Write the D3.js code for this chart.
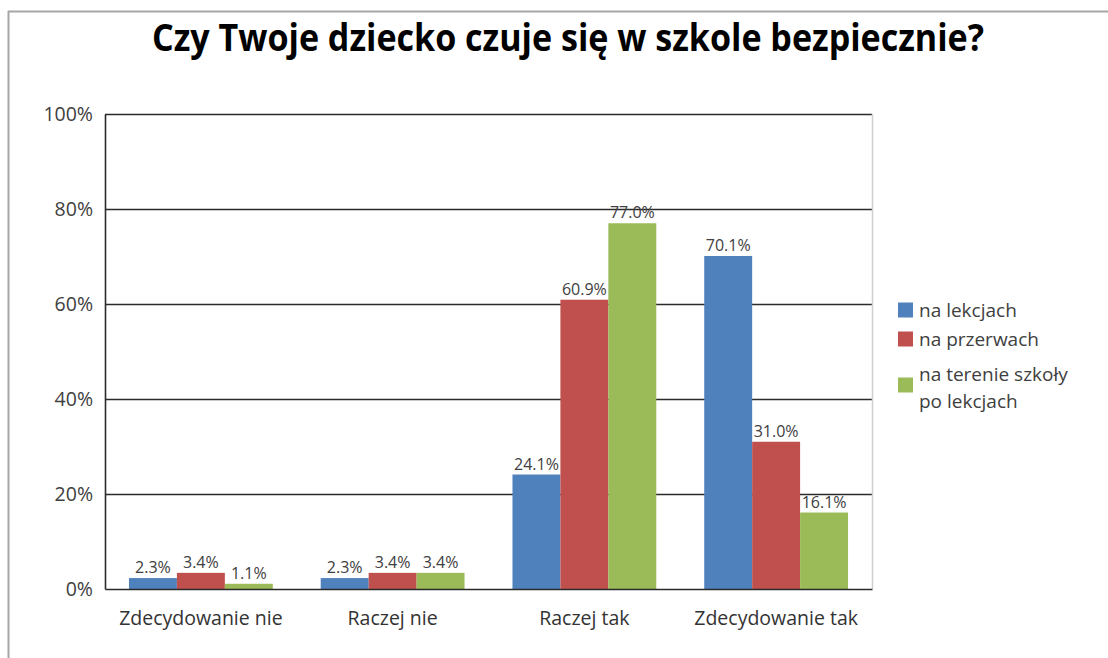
<!DOCTYPE html>
<html>
<head>
<meta charset="utf-8">
<script src="https://cdn.jsdelivr.net/npm/d3@7"></script>
<style>
  body { margin: 0; background: #fff; }
  svg { display: block; }
</style>
</head>
<body>
<svg id="chart" width="1108" height="658"></svg>
<script>
const title = "Czy Twoje dziecko czuje się w szkole bezpiecznie?";
const categories = ["Zdecydowanie nie", "Raczej nie", "Raczej tak", "Zdecydowanie tak"];
const seriesNames = ["na lekcjach", "na przerwach", "na terenie szkoły po lekcjach"];
const legendLines = [["na lekcjach"], ["na przerwach"], ["na terenie szkoły", "po lekcjach"]];
const naLekcjach = [2.3, 2.3, 24.1, 70.1];
const naPrzerwach = [3.4, 3.4, 60.9, 31.0];
const poLekcjach = [1.1, 3.4, 77.0, 16.1];
const yTicks = [0, 20, 40, 60, 80, 100];
const colors = ["#4F81BD", "#C0504D", "#9BBB59"];

const seriesValues = [naLekcjach, naPrzerwach, poLekcjach];

const svg = d3.select("#chart");
const font = "'Open Sans', 'Noto Sans', sans-serif";

// outer frame (left and top edges)
svg.append("line").attr("x1", 8.5).attr("x2", 8.5).attr("y1", 11).attr("y2", 658)
  .attr("stroke", "#a6a6a6").attr("stroke-width", 2);
svg.append("line").attr("x1", 8).attr("x2", 1108).attr("y1", 11.5).attr("y2", 11.5)
  .attr("stroke", "#a6a6a6").attr("stroke-width", 2);

const plot = { left: 105, right: 872, top: 114, bottom: 589 };

const x0 = d3.scaleBand().domain(categories).range([plot.left, plot.right])
  .paddingInner(0.25).paddingOuter(0.125);
const x1 = d3.scaleBand().domain(d3.range(seriesNames.length)).range([0, x0.bandwidth()]);
const y = d3.scaleLinear().domain([0, 100]).range([plot.bottom, plot.top]);

// title
svg.append("text").attr("x", 568).attr("y", 51).attr("text-anchor", "middle")
  .attr("font-family", font).attr("font-weight", "bold").attr("font-size", 37)
  .attr("fill", "#000").attr("textLength", 832).attr("lengthAdjust", "spacingAndGlyphs")
  .text(title);

// gridlines
svg.append("g").selectAll("line").data(yTicks.filter(t => t > 0)).join("line")
  .attr("x1", plot.left).attr("x2", plot.right)
  .attr("y1", d => Math.round(y(d)) + 0.5).attr("y2", d => Math.round(y(d)) + 0.5)
  .attr("stroke", "#2b2b2b").attr("stroke-width", 1.6);

// right border of plot
svg.append("line").attr("x1", plot.right + 0.5).attr("x2", plot.right + 0.5)
  .attr("y1", plot.top).attr("y2", plot.bottom).attr("stroke", "#cfcfcf").attr("stroke-width", 1.5);

// y axis
const yAxis = d3.axisLeft(y).tickValues(yTicks).tickFormat(d => d + "%").tickSize(0).tickPadding(12);
const gy = svg.append("g").attr("transform", `translate(${plot.left},0)`).call(yAxis);
gy.select(".domain").attr("stroke", "#2b2b2b").attr("stroke-width", 1.6);
gy.selectAll("text").attr("font-family", font).attr("font-size", 19.5).attr("fill", "#404040");

// bars
const groups = svg.append("g").selectAll("g").data(categories).join("g")
  .attr("transform", d => `translate(${x0(d)},0)`);

groups.selectAll("rect")
  .data((c, ci) => seriesValues.map((vals, si) => ({ si, v: vals[ci] })))
  .join("rect")
  .attr("x", d => x1(d.si))
  .attr("width", x1.bandwidth())
  .attr("y", d => y(d.v))
  .attr("height", d => plot.bottom - y(d.v))
  .attr("fill", d => colors[d.si]);

groups.selectAll("text.lbl")
  .data((c, ci) => seriesValues.map((vals, si) => ({ si, v: vals[ci] })))
  .join("text").attr("class", "lbl")
  .attr("x", d => x1(d.si) + x1.bandwidth() / 2)
  .attr("y", d => y(d.v) - 5)
  .attr("text-anchor", "middle")
  .attr("font-family", font).attr("font-size", 16).attr("fill", "#404040")
  .text(d => d.v.toFixed(1) + "%");

// x axis
const xAxis = d3.axisBottom(x0).tickSize(0).tickPadding(22);
const gx = svg.append("g").attr("transform", `translate(0,${plot.bottom})`).call(xAxis);
gx.select(".domain").attr("stroke", "#2b2b2b").attr("stroke-width", 1.6);
gx.selectAll("text").attr("font-family", font).attr("font-size", 19.5).attr("fill", "#333");

// legend
const legendSquareY = [310, 339, 385];
const legendBaselines = [[317], [346], [381, 408]];
const lg = svg.append("g");
seriesNames.forEach((name, i) => {
  lg.append("rect").attr("x", 898).attr("y", legendSquareY[i] - 7.5).attr("width", 15).attr("height", 15)
    .attr("fill", colors[i]);
  const t = lg.append("text").attr("font-family", font).attr("font-size", 19).attr("fill", "#404040");
  legendLines[i].forEach((ln, k) => {
    t.append("tspan").attr("x", 919).attr("y", legendBaselines[i][k]).text(ln);
  });
});
</script>
</body>
</html>
